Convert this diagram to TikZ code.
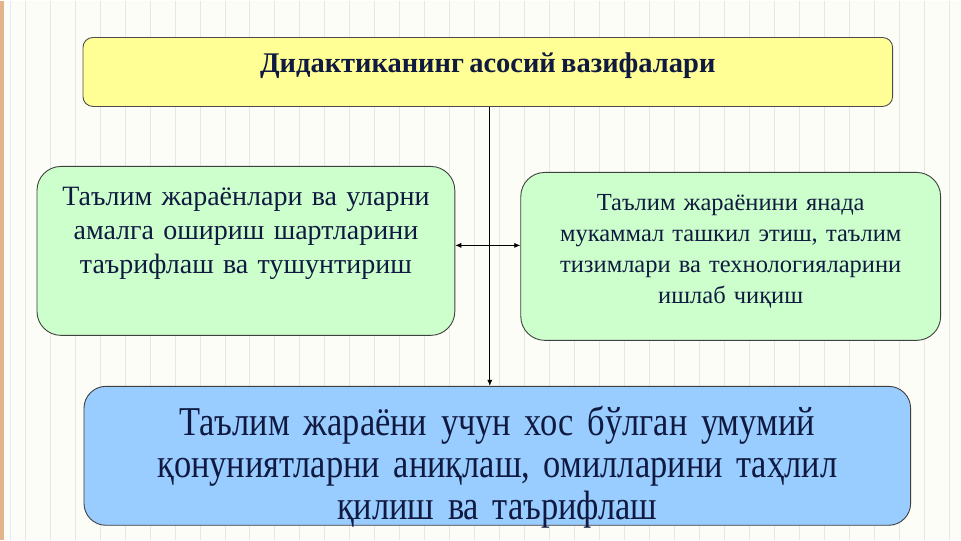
\documentclass[tikz,border=0pt]{standalone}
\usepackage{fontspec}
\setmainfont[WordSpace=0.75]{Liberation Serif}
\newfontfamily\condfont[FakeStretch=0.84,WordSpace=0.75]{Liberation Serif}
\usepackage{tikz}
\usetikzlibrary{arrows.meta}
\definecolor{paper}{RGB}{253,253,247}
\definecolor{gridc}{RGB}{234,230,228}
\definecolor{tan}{RGB}{226,180,140}
\definecolor{ink}{RGB}{16,26,64}
\definecolor{headfill}{RGB}{255,255,150}
\definecolor{greenfill}{RGB}{204,255,204}
\definecolor{bluefill}{RGB}{153,204,255}
\tikzset{
    gridline/.style = {gridc, line width=0.8pt},
    headbox/.style = {rectangle, rounded corners=10pt, draw=black!70, line width=0.9pt, fill=headfill,
        inner sep=0pt, align=center, text=ink, font=\fontsize{28.5}{32}\selectfont\bfseries},
    taskbox/.style = {rectangle, rounded corners=24pt, draw=black!75, line width=0.9pt, fill=greenfill,
        inner sep=0pt, align=center, text=ink},
    resultbox/.style = {rectangle, rounded corners=22pt, draw=black!75, line width=0.9pt, fill=bluefill,
        inner sep=0pt, align=center, text=ink, font=\condfont\fontsize{41}{42}\selectfont},
    link/.style = {-{Latex[length=6pt,width=5pt]}, line width=0.7pt},
    linkboth/.style = {{Latex[length=6pt,width=5pt]}-{Latex[length=6pt,width=5pt]}, line width=0.7pt}
}
\begin{document}
\begin{tikzpicture}[x=1pt,y=-1pt]
% page
\fill[paper] (0,0) rectangle (961,540);
\draw[gridline, xstep=25, ystep=24] (12,0) grid (961,540);
\fill[tan] (0,0) rectangle (4,540);
\draw[blue!10, line width=1pt] (11,0) -- (11,540);
%
\node[headbox, minimum width=810, text height=35, text depth=34] at (488, 71.5) (head)
    {Дидактиканинг асосий вазифалари};
\node[taskbox, minimum width=418, text width=400, text height=39, text depth=130,
    font=\fontsize{28}{34}\selectfont] at (246, 250.5) (left)
    {Таълим жараёнлари ва уларни\\амалга ошириш шартларини\\таърифлаш ва тушунтириш};
\node[taskbox, minimum width=420, text width=400, text height=38, text depth=130,
    font=\fontsize{24.5}{31}\selectfont] at (731, 256) (right)
    {Таълим жараёнини янада\\мукаммал ташкил этиш, таълим\\тизимлари ва технологияларини\\ишлаб чиқиш};
\node[resultbox, minimum width=827, text width=800, text height=49, text depth=90] at (497.5, 455.5) (result)
    {Таълим жараёни учун хос бўлган умумий\\қонуниятларни аниқлаш, омилларини таҳлил\\қилиш ва таърифлаш};
%
\coordinate (mid) at (490, 245);
\draw[link] ([xshift=2pt]head.south) -- ([xshift=2pt]head.south |- result.north);
\draw[linkboth] (left.east |- mid) -- (right.west |- mid);
\end{tikzpicture}
\end{document}
